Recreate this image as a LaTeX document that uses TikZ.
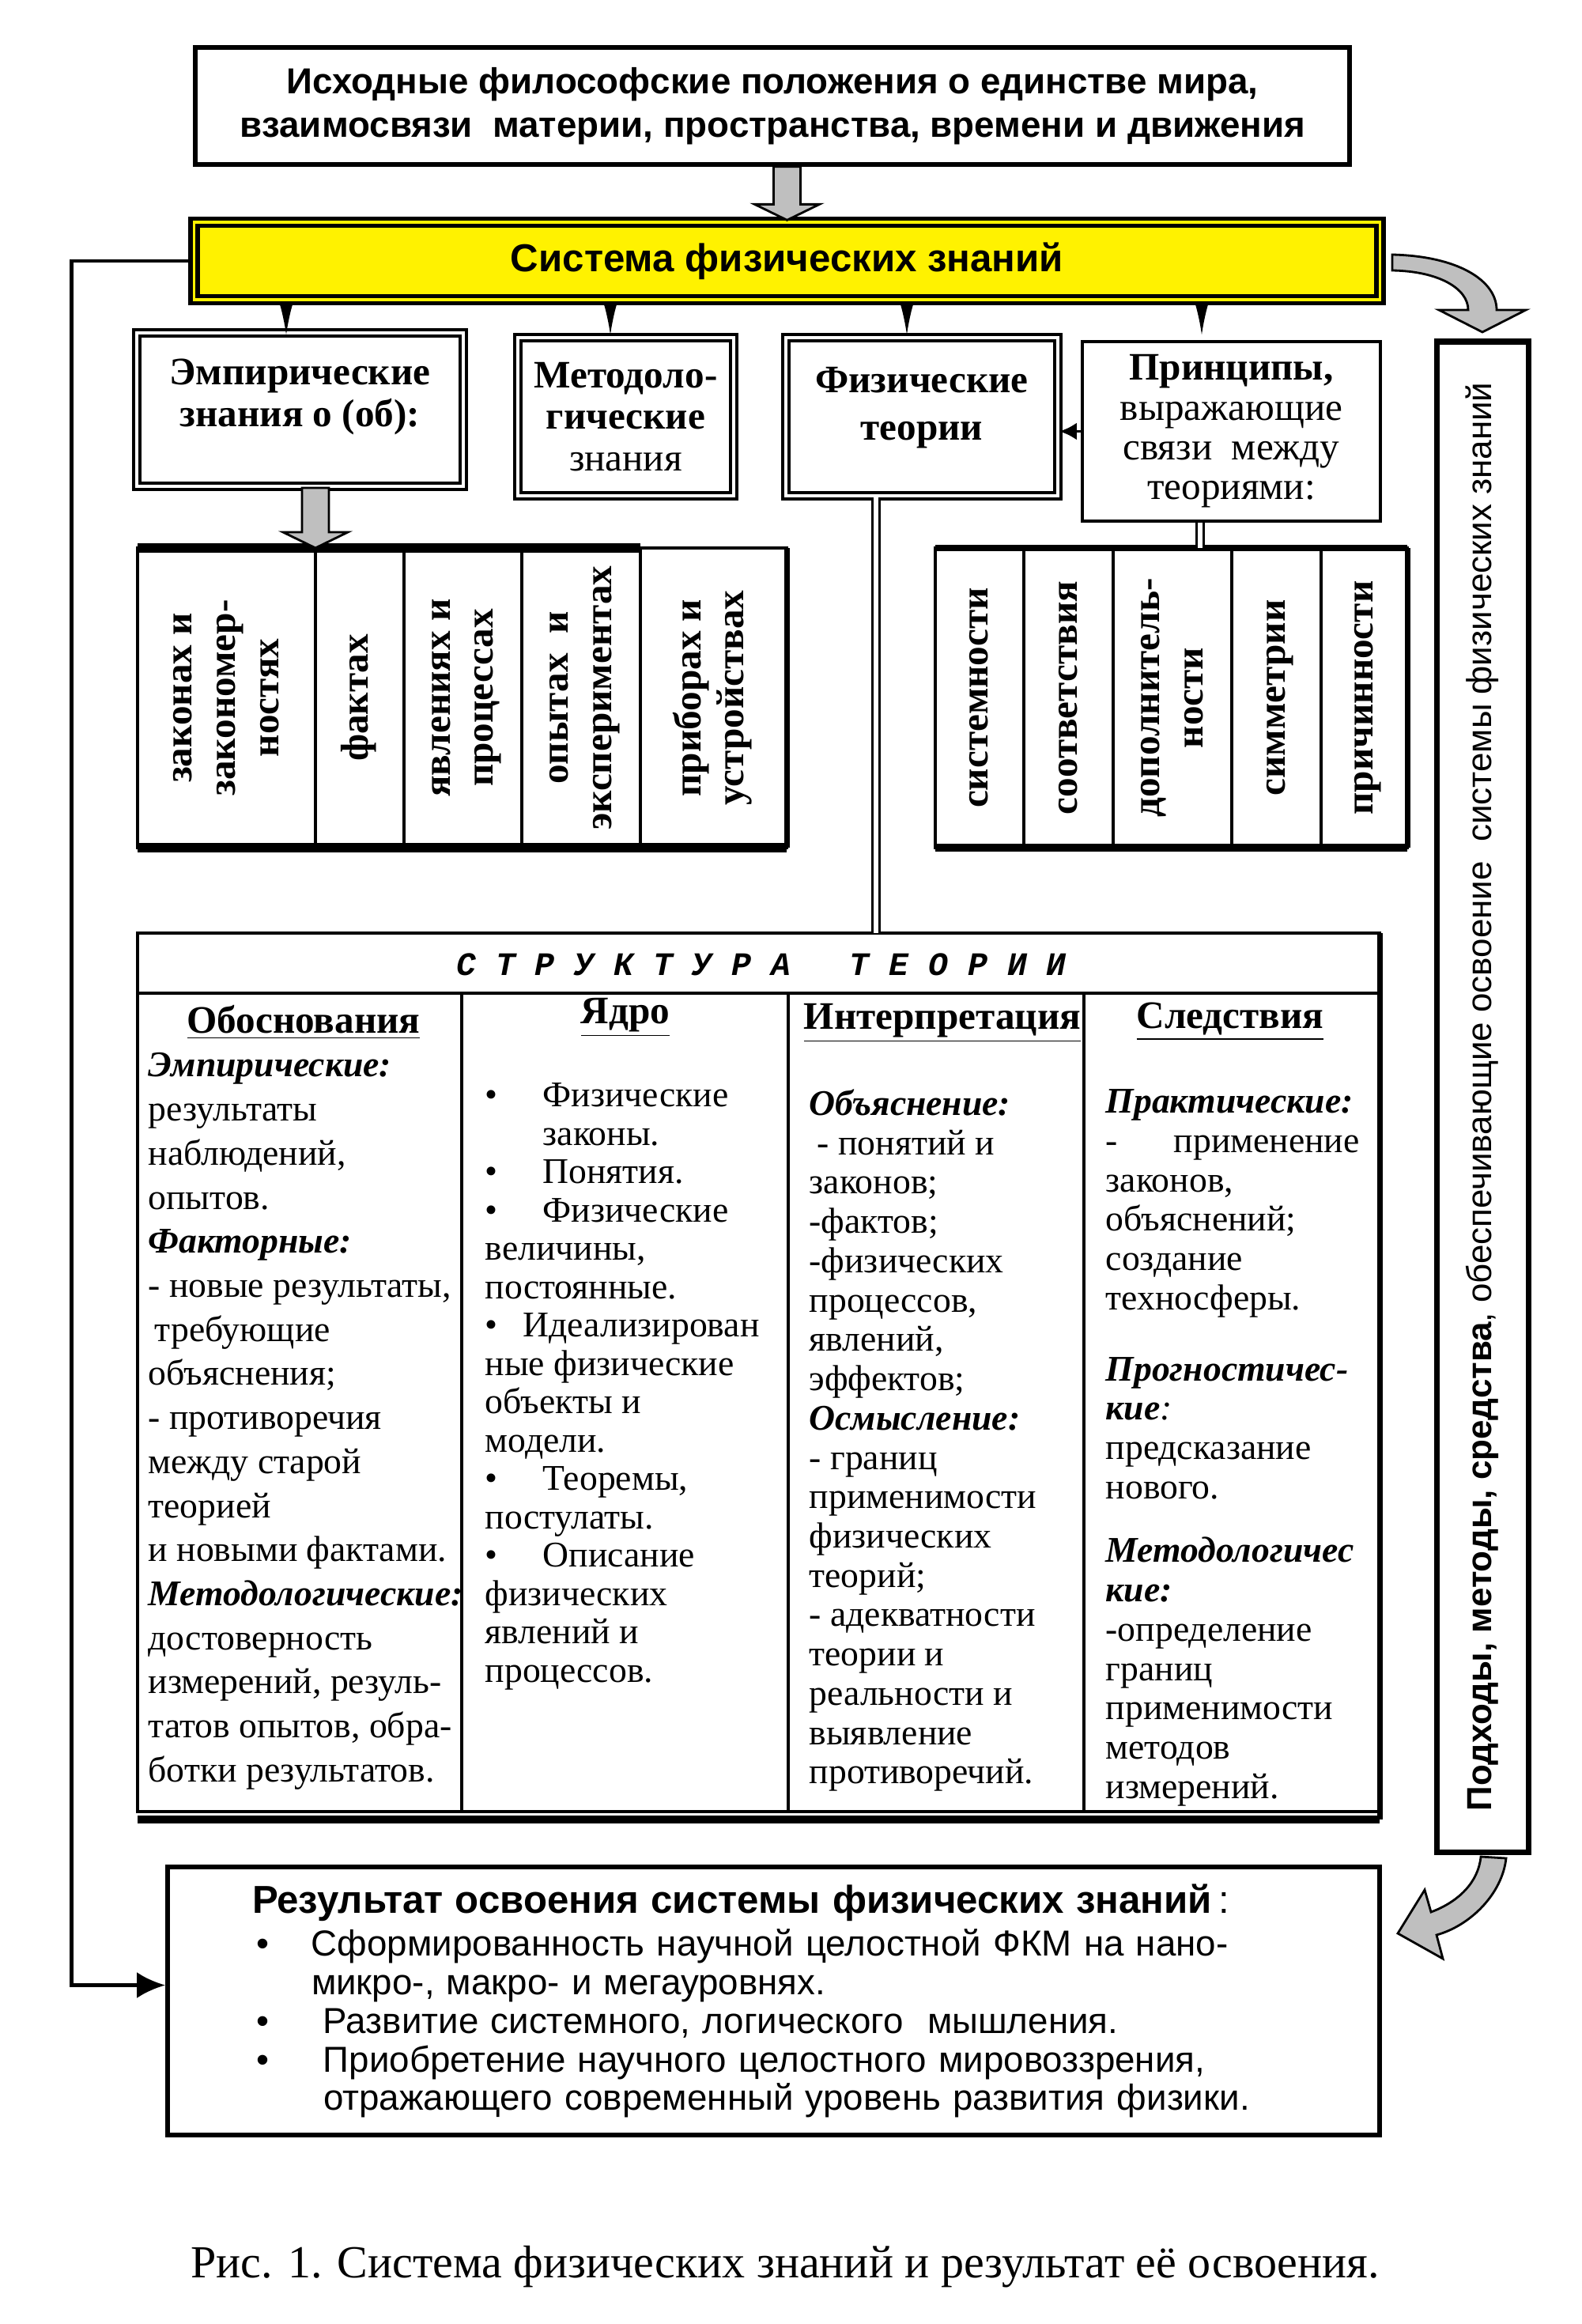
\documentclass[tikz,border=0pt]{standalone}
\usepackage{fontspec}
\setmainfont{Liberation Serif}
\setsansfont{Liberation Sans}
\setmonofont{Liberation Mono}
\usepackage{graphicx}
\usepackage{xcolor}
\usepackage{tikz}
\usetikzlibrary{arrows.meta,positioning,calc}
\tikzset{
  topbox/.style={draw, line width=1.6pt, align=center, font=\sffamily\bfseries\fontsize{13}{15.5}\selectfont, minimum width=14.6cm, minimum height=1.48cm},
  sysbox/.style={draw, double=yellow, double distance=1pt, line width=1.5pt, fill=yellow, font=\sffamily\bfseries\fontsize{14}{16}\selectfont, minimum width=15.0cm, minimum height=0.98cm},
  dbox/.style={draw, double, double distance=1.4pt, line width=1.1pt, align=center, font=\fontsize{14}{15}\selectfont, inner sep=2pt},
  sbox/.style={draw, line width=1.1pt, align=center, font=\fontsize{14}{14.3}\selectfont, inner sep=2pt},
  vcell/.style={draw, line width=0.9pt, minimum height=3.79cm, inner sep=0pt, outer sep=0pt, font=\bfseries\fontsize{14}{15.6}\selectfont},
  coltext/.style={anchor=north west, align=left, inner sep=0pt, font=\fontsize{13}{#1}\selectfont},
  colhead/.style={font=\bfseries\fontsize{14}{16}\selectfont, inner sep=0pt},
  line/.style={-{Latex[length=0.36cm,width=0.33cm]}, line width=1.4pt},
  darrow/.style={-{Latex[length=0.4cm,width=0.17cm]}, line width=0.5pt},
  fatarrow/.style={draw, fill=gray!50, line width=0.8pt, line join=miter},
  dline/.style={double, double distance=1.8pt, line width=0.8pt}
}
\newcommand{\vtext}[1]{\rotatebox{90}{\begin{tabular}{@{}c@{}}#1\end{tabular}}}
\newcommand{\bul}{\makebox[0.73cm][l]{\textbullet}}
\newcommand{\fatdown}[2]{%
  \draw[fatarrow] let \p1=(#1), \p2=(#2) in
    (\x2-0.17cm,\y1) -- (\x2-0.17cm,\y2+0.2cm) -- (\x2-0.41cm,\y2+0.2cm) -- (\x2,\y2)
    -- (\x2+0.41cm,\y2+0.2cm) -- (\x2+0.17cm,\y2+0.2cm) -- (\x2+0.17cm,\y1) -- cycle;}

\begin{document}
\begin{tikzpicture}
  \useasboundingbox (0,0) rectangle (20,-29.39);
  % top
  \node[topbox] (src) at (9.77,-1.34) {Исходные философские положения о единстве мира,\\взаимосвязи\ \ материи, пространства, времени и движения};
  \node[sysbox] (sys) at (9.955,-3.30) {Система физических знаний};
  \fatdown{src.south}{sys.north}

  % kinds of knowledge
  \node[dbox, minimum width=4.13cm, minimum height=1.94cm] (emp) at (3.795,-5.18) {\textbf{Эмпирические}\\\textbf{знания о (об):}\\[-0.1cm]\mbox{}};
  \node[dbox, minimum width=2.73cm, minimum height=2.0cm] (meth) at (7.915,-5.27) {\textbf{Методоло-}\\\textbf{гические}\\знания};
  \node[dbox, minimum width=3.44cm, minimum height=2.0cm] (theo) at (11.66,-5.27) {\textbf{Физические}\\[2pt]\textbf{теории}\\[-0.2cm]\mbox{}};
  \node[sbox, minimum width=3.77cm, minimum height=2.27cm] (princ) at (15.575,-5.455) {\textbf{Принципы,}\\выражающие\\связи\ \ между\\теориями:};
  \foreach \n/\x in {emp/3.62, meth/7.72, theo/11.47, princ/15.20}
    \draw[darrow] (sys.south -| \x,0) -- ++(0,-0.42);
  \draw[-{Latex[length=0.22cm,width=0.22cm]}, line width=1pt] (princ.west) -- (princ.west -| theo.east);

  % empirical knowledge about
  \node[vcell, minimum width=2.25cm, anchor=north west] (e1) at (1.74,-6.93) {\vtext{законах и\\закономер-\\ностях}};
  \node[vcell, minimum width=1.12cm, right=0pt of e1] (e2) {\vtext{фактах}};
  \node[vcell, minimum width=1.49cm, right=0pt of e2] (e3) {\vtext{явлениях и\\процессах}};
  \node[vcell, minimum width=1.50cm, right=0pt of e3] (e4) {\vtext{опытах\ \ и\\экспериментах}};
  \node[vcell, minimum width=1.85cm, right=0pt of e4] (e5) {\vtext{приборах и\\устройствах}};
  \draw[line width=3.5pt] (e1.north west) -- (e4.north east);
  \draw[line width=3.5pt] (e1.south west) -- (e5.south east);
  \draw[line width=2pt] (e5.north east) -- (e5.south east);
  \fatdown{emp.south}{e1.north east}

  % principles
  \node[vcell, minimum width=1.12cm, anchor=north west] (p1) at (11.83,-6.93) {\vtext{системности}};
  \node[vcell, minimum width=1.13cm, right=0pt of p1] (p2) {\vtext{соответствия}};
  \node[vcell, minimum width=1.50cm, right=0pt of p2] (p3) {\vtext{дополнитель-\\ности}};
  \node[vcell, minimum width=1.13cm, right=0pt of p3] (p4) {\vtext{симметрии}};
  \node[vcell, minimum width=1.09cm, right=0pt of p4] (p5) {\vtext{причинности}};
  \draw[line width=2pt] (p1.north west) -- (p5.north east);
  \draw[line width=3pt] (p1.south west) -- (p5.south east);
  \draw[line width=2pt] (p5.north east) -- (p5.south east);
  \draw[dline] (princ.south -| 15.18,0) -- (p3.north -| 15.18,0);

  % structure of a theory
  \node[draw, line width=1.2pt, minimum width=15.71cm, minimum height=11.11cm, anchor=north west, inner sep=0pt, outer sep=0pt] (tab) at (1.74,-11.80) {};
  \draw[line width=3pt] ([yshift=-0.1cm]tab.south west) -- ([yshift=-0.1cm]tab.south east);
  \draw[line width=2pt] (tab.north east) -- ([yshift=-0.1cm]tab.south east);
  \draw[dline] (theo.south -| 11.08,0) -- (tab.north -| 11.08,0);
  \node[font=\ttfamily\bfseries\itshape\fontsize{11.8}{13}\selectfont] (thead) at (9.63,-12.20) {С Т Р У К Т У Р А\ \ \ Т Е О Р И И};
  \draw[line width=0.9pt] (1.74,-12.56) -- (17.45,-12.56);
  \foreach \x in {5.84,9.97,13.71}
    \draw[line width=0.9pt] (\x,-12.56) -- (\x,-22.91);

  \node[colhead] (h1) at (3.84,-12.93) {\underline{Обоснования}};
  \node[colhead] (h2) at (7.91,-12.87) {\underline{Ядро}};
  \node[colhead] (h3) at (11.92,-12.94) {\underline{Интерпретация}};
  \node[colhead] (h4) at (15.56,-12.92) {\underline{Следствия}};

  \node[coltext=15.85] (c1) at (1.87,-13.31) {\textbf{\textit{Эмпирические:}}\\
    результаты\\наблюдений,\\опытов.\\
    \textbf{\textit{Факторные:}}\\
    - новые результаты,\\\hspace*{0.08cm}требующие\\объяснения;\\- противоречия\\между старой\\теорией\\и новыми фактами.\\
    \textbf{\textit{Методологические:}}\\
    достоверность\\измерений, резуль-\\татов опытов, обра-\\ботки результатов.};
  \node[coltext=13.8] (c2) at (6.13,-13.69) {\bul Физические\\\hspace*{0.73cm}законы.\\\bul Понятия.\\\bul Физические\\
    величины,\\постоянные.\\\makebox[0.48cm][l]{\textbullet}Идеализирован\\ные физические\\объекты и\\модели.\\
    \bul Теоремы,\\постулаты.\\\bul Описание\\физических\\явлений и\\процессов.};
  \node[coltext=14.15] (c3) at (10.23,-13.77) {\textbf{\textit{Объяснение:}}\\
    \hspace*{0.1cm}- понятий и\\законов;\\-фактов;\\-физических\\процессов,\\явлений,\\эффектов;\\
    \textbf{\textit{Осмысление:}}\\
    - границ\\применимости\\физических\\теорий;\\- адекватности\\теории и\\реальности и\\выявление\\противоречий.};
  \node[coltext=14.15] (c4) at (13.98,-13.77) {\textbf{\textit{Практические:}}\\
    \makebox[0.86cm][l]{-}применение\\законов,\\объяснений;\\создание\\техносферы.\\[0.4cm]
    \textbf{\textit{Прогностичес-}}\\\textbf{\textit{кие}}\textit{:}\\предсказание\\нового.\\[0.31cm]
    \textbf{\textit{Методологичес}}\\\textbf{\textit{кие:}}\\-определение\\границ\\применимости\\методов\\измерений.};

  % means column
  \node[draw, line width=2pt, minimum width=1.16cm, minimum height=19.1cm, inner sep=0pt, font=\sffamily\fontsize{12.5}{14}\selectfont] (side) at (18.75,-13.87)
    {\rotatebox{90}{\textbf{Подходы, методы, средства}, обеспечивающие освоение\ \ системы физических знаний}};
  \draw[fatarrow] (17.61,-3.22) .. controls (18.45,-3.24) and (18.93,-3.55) .. (18.93,-3.92) -- (19.30,-3.92) -- (18.75,-4.20) -- (18.20,-3.92) -- (18.57,-3.92) .. controls (18.57,-3.65) and (18.2,-3.43) .. (17.61,-3.42) -- cycle;

  % result
  \node[draw, line width=1.6pt, text width=13.19cm, inner xsep=1.07cm, minimum height=3.39cm, align=left, font=\sffamily\fontsize{13}{13.9}\selectfont] (res) at (9.785,-25.305)
    {{\fontsize{14}{14}\selectfont\textbf{Результат освоения системы физических знаний}\,:}\\[1.5pt]
     \hspace*{0.05cm}\makebox[0.7cm][l]{\textbullet}Сформированность научной целостной ФКМ на нано-\\
     \hspace*{0.75cm}микро-, макро- и мегауровнях.\\
     \hspace*{0.05cm}\makebox[0.85cm][l]{\textbullet}Развитие системного, логического\ \ мышления.\\
     \hspace*{0.05cm}\makebox[0.85cm][l]{\textbullet}Приобретение научного целостного мировоззрения,\\
     \hspace*{0.9cm}отражающего современный уровень развития физики.};
  \draw[fatarrow] (19.05,-23.50) .. controls (19.0,-23.95) and (18.6,-24.35) .. (18.17,-24.47) -- (18.25,-24.77) -- (17.68,-24.45) -- (18.02,-23.90) -- (18.10,-24.18) .. controls (18.45,-24.05) and (18.7,-23.8) .. (18.73,-23.48) -- cycle;
  \draw[line] (sys.west) -- ++(-1.52,0) |- ([yshift=0.2cm]res.west);

  \node[font=\fontsize{16.5}{18}\selectfont] (cap) at (9.93,-28.67) {Рис. 1. Система физических знаний и результат её освоения.};
\end{tikzpicture}
\end{document}
